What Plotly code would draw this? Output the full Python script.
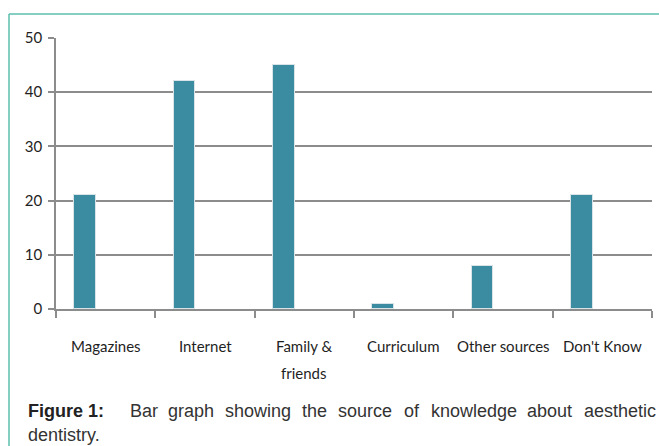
import plotly.graph_objects as go

# data
sources = ["Magazines", "Internet", "Family & friends", "Curriculum", "Other sources", "Don't Know"]
label_lines = [["Magazines"], ["Internet"], ["Family &", "friends"], ["Curriculum"], ["Other sources"], ["Don't Know"]]
counts = [21, 42, 45, 1, 8, 21]
y_ticks = [0, 10, 20, 30, 40, 50]

caption_bold = "Figure 1:"
caption_line1 = ["Bar", "graph", "showing", "the", "source", "of", "knowledge", "about", "aesthetic"]
caption_line2 = "dentistry."

# layout in pixels
W, H = 659, 446
L, R, T, B = 56, 7, 38, 137
plot_w = W - L - R
plot_h = H - T - B
bottom_px = H - B

def px_x(x):
    return (x - L) / plot_w

def px_y(y):
    return (bottom_px - y) / plot_h

label_font = dict(family="Lato, Roboto, sans-serif", size=15, color="#1f1f1f")
cap_font = dict(family="Liberation Sans, Arial, sans-serif", size=18, color="#333333")

fig = go.Figure()
fig.add_trace(go.Bar(
    x=sources,
    y=counts,
    width=0.22,
    offset=-0.317,
    marker=dict(color="#3b8ba1", line=dict(color="#d8e4e8", width=1)),
    hoverinfo="x+y",
))

annotations = []
# category labels
for i, lines in enumerate(label_lines):
    cx = L + plot_w * (i + 0.5) / len(sources)
    for j, txt in enumerate(lines):
        annotations.append(dict(
            x=px_x(cx), y=px_y(346 + 27 * j), xref="paper", yref="paper",
            text=txt, showarrow=False, xanchor="center", yanchor="middle",
            font=label_font,
        ))

# caption (justified first line, word by word)
annotations.append(dict(
    x=px_x(26), y=px_y(411), xref="paper", yref="paper",
    text="<b>" + caption_bold + "</b>", showarrow=False, xanchor="left", yanchor="middle",
    font=dict(family="Liberation Sans, Arial, sans-serif", size=18, color="#222222"),
))
word_x = [128, 166, 223, 300, 336, 402, 429, 525, 582]
for wx, word in zip(word_x, caption_line1):
    annotations.append(dict(
        x=px_x(wx), y=px_y(411), xref="paper", yref="paper",
        text=word, showarrow=False, xanchor="left", yanchor="middle", font=cap_font,
    ))
annotations.append(dict(
    x=px_x(26), y=px_y(435), xref="paper", yref="paper",
    text=caption_line2, showarrow=False, xanchor="left", yanchor="middle", font=cap_font,
))

# teal frame (top and left edges)
frame = dict(color="#5cbfae", width=1.5)
shapes = [
    dict(type="line", xref="paper", yref="paper", x0=px_x(9), x1=px_x(W), y0=px_y(14), y1=px_y(14), line=frame),
    dict(type="line", xref="paper", yref="paper", x0=px_x(9), x1=px_x(9), y0=px_y(14), y1=px_y(H), line=frame),
]

fig.update_layout(
    width=W, height=H,
    margin=dict(l=L, r=R, t=T, b=B),
    paper_bgcolor="white", plot_bgcolor="white",
    showlegend=False,
    bargap=0,
    annotations=annotations,
    shapes=shapes,
)
fig.update_xaxes(
    type="category",
    showticklabels=False,
    ticks="outside", tickson="boundaries", ticklen=7, tickcolor="#8c8c8c", tickwidth=1.5,
    showline=True, linecolor="#8c8c8c", linewidth=1.5,
    showgrid=False, zeroline=False,
    range=[-0.5, len(sources) - 0.5],
)
fig.update_yaxes(
    range=[0, 50], tickvals=y_ticks,
    ticks="outside", ticklen=6, tickcolor="#8c8c8c", tickwidth=1.5,
    ticklabelstandoff=3,
    tickfont=label_font,
    showline=True, linecolor="#8c8c8c", linewidth=1.5,
    showgrid=True, gridcolor="#8c8c8c", gridwidth=1.5,
    zeroline=False,
)

fig.write_html(
    "out.html",
    config={"displayModeBar": False},
    post_script="document.body.style.margin='0px';",
)
